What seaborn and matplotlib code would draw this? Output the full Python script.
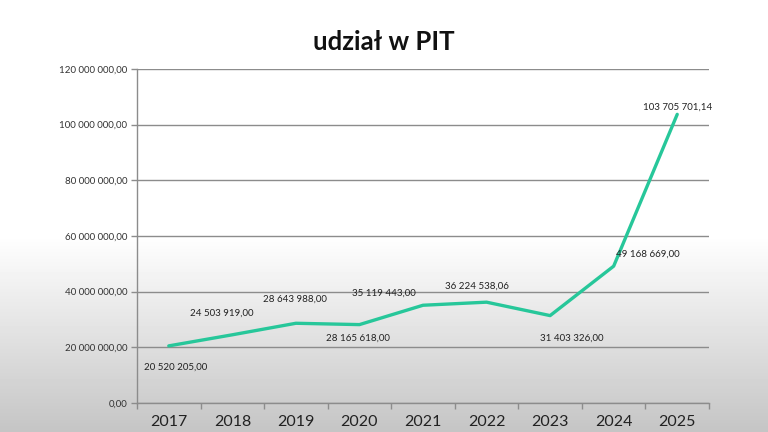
import numpy as np
import pandas as pd
import matplotlib
matplotlib.use("Agg")
import matplotlib.pyplot as plt
import seaborn as sns
from matplotlib.ticker import FixedLocator, FuncFormatter

years = ["2017", "2018", "2019", "2020", "2021", "2022", "2023", "2024", "2025"]
values = [20520205.00, 24503919.00, 28643988.00, 28165618.00, 35119443.00,
          36224538.06, 31403326.00, 49168669.00, 103705701.14]
label_offsets = [(7, -21), (-11, 22), (-1, 24), (-2, -14), (-39, 12),
                 (-10, 16), (22, -23), (34, 12), (0, 7)]
title = "udział w PIT"


def fmt(v):
    s = f"{v:,.2f}"
    intpart, dec = s.split(".")
    return intpart.replace(",", " ") + "," + dec


sns.set_theme(style="white")
plt.rcParams["font.family"] = ["Lato", "DejaVu Sans"]

fig = plt.figure(figsize=(7.68, 4.32), dpi=100)

# background gradient
bg = fig.add_axes([0, 0, 1, 1], zorder=-10)
h = 432
col = np.ones(h)
start = 235
for i in range(start, h):
    t = (i - start) / (h - start)
    col[i] = 1.0 - 0.23 * t
img = np.repeat(col[:, None], 10, axis=1)
bg.imshow(img, cmap="gray", vmin=0, vmax=1, aspect="auto", extent=[0, 1, 0, 1], origin="upper")
bg.set_axis_off()

ax = fig.add_axes([137 / 768, 1 - 403 / 432, (709 - 137) / 768, (403 - 69) / 432])
ax.patch.set_alpha(0)

df = pd.DataFrame({"rok": years, "wartosc": values})
sns.lineplot(data=df, x="rok", y="wartosc", ax=ax, color="#27c79a", linewidth=2.4, sort=False)

ax.set_xlim(-0.5, len(years) - 0.5)
ax.set_ylim(0, 120_000_000)
ax.yaxis.set_major_locator(FixedLocator(np.arange(0, 120_000_001, 20_000_000)))
ax.yaxis.set_major_formatter(FuncFormatter(lambda v, p: fmt(v)))
ax.grid(axis="y", color="#8c8c8c", linewidth=1.0)
ax.grid(axis="x", visible=False)

ax.set_xticks(range(len(years)))
ax.set_xticklabels(years)
ax.set_xticks(np.arange(-0.5, len(years), 1.0), minor=True)
ax.tick_params(axis="x", which="major", length=0, labelsize=11.5, pad=9, colors="#222222")
ax.tick_params(axis="x", which="minor", length=4, width=1, color="#8c8c8c", direction="out", bottom=True)
ax.tick_params(axis="y", length=4, width=1, color="#8c8c8c", direction="out", left=True,
               labelsize=7, pad=3, labelcolor="#333333")

for s in ["top", "right"]:
    ax.spines[s].set_visible(False)
for s in ["left", "bottom"]:
    ax.spines[s].set_color("#8c8c8c")
    ax.spines[s].set_linewidth(1)

ax.set_xlabel("")
ax.set_ylabel("")

for i, (v, off) in enumerate(zip(values, label_offsets)):
    ax.annotate(fmt(v), (i, v), xytext=off, textcoords="offset pixels",
                ha="center", va="center", fontsize=7, color="#222222")

fig.text(384 / 768, 1 - 42 / 432, title, ha="center", va="center",
         fontsize=18.5, fontweight="bold", color="#111111")

fig.savefig("out.png", dpi=100)
